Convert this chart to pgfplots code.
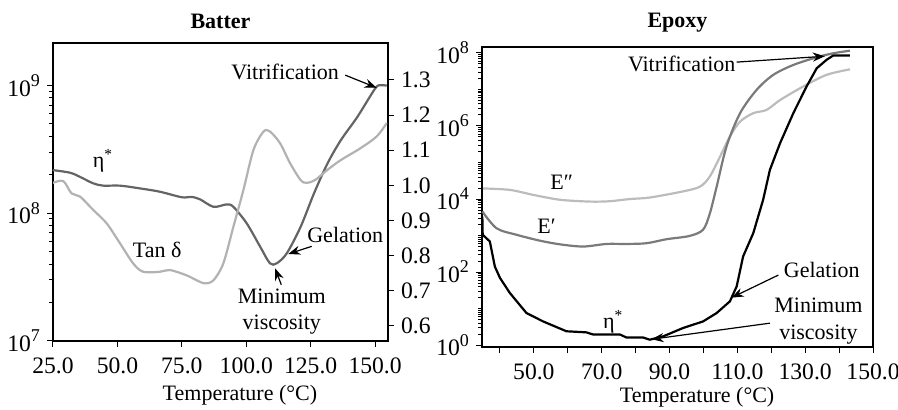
\documentclass[border=0pt]{standalone}
\usepackage{fontspec}
\setmainfont{Liberation Serif}
\usepackage{pgfplots}
\pgfplotsset{compat=1.18}
\usetikzlibrary{arrows.meta}
\definecolor{etadark}{RGB}{100,100,100}
\definecolor{tanlight}{RGB}{178,178,178}
\definecolor{eprime}{RGB}{122,122,122}
\definecolor{edouble}{RGB}{188,188,188}

\newcommand{\fs}{\fontsize{11}{13.2}\selectfont}
\newcommand{\ft}{\fontsize{11.8}{14}\selectfont}
\newcommand{\pw}[1]{10\raisebox{0.42em}{\fontsize{9}{9}\selectfont #1}}
\tikzset{ann/.style={-{Stealth[length=6pt,width=4.5pt]}, line width=0.6pt}}

\begin{document}
\begin{tikzpicture}[font=\fs]
\useasboundingbox (0,0) rectangle (449pt,204.5pt);
\pgfplotsset{
  every axis title shift=0pt,
  every axis/.append style={
    scale only axis, anchor=south west,
    tick label style={font=\ft}, label style={font=\fs},
    xticklabel style={yshift=-2pt},
    tick align=outside, major tick length=3pt, minor tick length=2pt,
    axis line style={line width=0.6pt}, tick style={line width=0.5pt, black},
  },
}

% ---- Batter: eta* on the log axis
\begin{axis}[
  at={(26.5pt,34pt)}, width=167.5pt, height=149pt,
  xmin=25, xmax=155, ymode=log, ymin=1e7, ymax=2.14e9,
  xtick={25,50,75,100,125,150},
  xticklabels={25.0,50.0,75.0,100.0,125.0,150.0},
  ytick={1e7,1e8,1e9},
  yticklabels={\pw{7},\pw{8},\pw{9}},
  xtick pos=bottom, ytick pos=left,
  xlabel={Temperature (°C)},
  xlabel style={at={(axis description cs:0.558,-0.181)}, anchor=center},
  title={Batter},
  title style={font=\fs\bfseries, at={(axis description cs:0.5,1)}, anchor=center, yshift=11pt},
  clip=false,
]
\addplot[smooth, tension=0.5, etadark, line width=1.1pt] coordinates {
  (24.9,2.17e8) (31.6,2.07e8) (35.5,1.92e8) (40.6,1.71e8) (44.5,1.64e8)
  (51.0,1.64e8) (58.8,1.56e8) (66.5,1.47e8) (75.0,1.33e8) (78.8,1.34e8)
  (82.1,1.28e8) (87.3,1.12e8) (92.4,1.17e8) (95.0,1.12e8) (100.2,8.30e7)
  (105.4,5.46e7) (109.2,4.05e7) (111.8,4.05e7) (115.7,4.84e7) (121.1,7.82e7)
  (126.3,1.43e8) (131.5,2.44e8) (136.7,3.72e8) (143.1,5.65e8) (150.0,9.42e8)
  (152.0,1.0e9) (154.5,9.93e8)
};
\node at (axis cs:115.1,1.26e9) {Vitrification};
\draw[ann] (axis cs:138.4,1.2e9) -- (axis cs:150.6,9.55e8);
\node at (axis cs:44.4,2.57e8) {η\textsuperscript{*}};
\node at (axis cs:65.4,5.13e7) {Tan δ};
\node at (axis cs:138.4,6.76e7) {Gelation};
\draw[ann] (axis cs:125.4,5.5e7) -- (axis cs:116.3,4.79e7);
\node[align=center, inner sep=0pt] at (axis cs:113.8,1.70e7) {Minimum\\viscosity};
\draw[ann] (axis cs:113.6,2.75e7) -- (axis cs:111.2,3.7e7);
\end{axis}

% ---- Batter: tan delta on the right axis
\begin{axis}[
  at={(26.5pt,34pt)}, width=167.5pt, height=149pt,
  xmin=25, xmax=155, ymin=0.557, ymax=1.405,
  axis y line*=right, axis x line=none,
  ytick={0.6,0.7,0.8,0.9,1.0,1.1,1.2,1.3},
  yticklabels={0.6,0.7,0.8,0.9,1.0,1.1,1.2,1.3},
]
\addplot[smooth, tension=0.5, tanlight, line width=1.1pt] coordinates {
  (24.9,1.007) (29.0,1.012) (32.2,0.977) (35.5,0.968) (40.6,0.930)
  (45.8,0.892) (51.0,0.835) (56.1,0.778) (60.0,0.754) (66.5,0.754)
  (70.4,0.759) (76.8,0.744) (80.7,0.730) (83.9,0.721) (87.3,0.730)
  (91.1,0.778) (95.0,0.882) (98.9,0.987) (102.8,1.101) (106.7,1.153)
  (109.2,1.153) (113.1,1.120) (117.0,1.063) (121.1,1.015) (123.5,1.007)
  (126.7,1.015) (131.5,1.044) (136.7,1.072) (144.2,1.105) (150.6,1.139)
  (154.5,1.177)
};
\end{axis}

% ---- Epoxy
\begin{axis}[
  at={(241pt,31pt)}, width=195.5pt, height=150pt,
  xmin=34.7, xmax=150, ymode=log, ymin=0.89, ymax=1.45e8,
  xtick={40,50,60,70,80,90,100,110,120,130,140,150},
  xticklabels={,50.0,,70.0,,90.0,,110.0,,130.0,,150.0},
  ytick={1,1e2,1e4,1e6,1e8},
  yticklabels={\pw{0},\pw{2},\pw{4},\pw{6},\pw{8}},
  minor ytick={2,3,4,5,6,7,8,9,10,20,30,40,50,60,70,80,90,
    200,300,400,500,600,700,800,900,1000,2000,3000,4000,5000,6000,7000,8000,9000,
    2e4,3e4,4e4,5e4,6e4,7e4,8e4,9e4,1e5,2e5,3e5,4e5,5e5,6e5,7e5,8e5,9e5,
    2e6,3e6,4e6,5e6,6e6,7e6,8e6,9e6,1e7,2e7,3e7,4e7,5e7,6e7,7e7,8e7,9e7},
  xtick pos=bottom, ytick pos=left,
  xlabel={Temperature (°C)},
  xlabel style={at={(axis description cs:0.55,-0.166)}, anchor=center},
  title={Epoxy},
  title style={font=\fs\bfseries, at={(axis description cs:0.5,1)}, anchor=center, yshift=12pt},
  clip=false,
]
\addplot[smooth, tension=0.5, edouble, line width=1.1pt] coordinates {
  (35.0,1.95e4) (42.9,1.78e4) (49.8,1.30e4) (57.7,9.55e3) (66.5,8.51e3)
  (72.4,8.71e3) (78.3,1.0e4) (84.2,1.10e4) (94.0,1.62e4) (99.0,2.19e4)
  (101.9,4.17e4) (104.9,1.45e5) (107.8,5.13e5) (110.8,1.32e6) (114.7,2.24e6)
  (118.6,2.75e6) (122.6,5.13e6) (129.4,1.20e7) (136.3,2.51e7) (143.2,3.55e7)
};
\addplot[smooth, tension=0.5, eprime, line width=1.1pt] coordinates {
  (34.8,4.57e3) (39.0,1.58e3) (44.9,1.05e3) (51.8,724) (57.7,575)
  (64.5,501) (71.4,589) (77.3,589) (83.2,617) (89.1,794) (95.9,977)
  (99.9,1.45e3) (101.9,4.07e3) (103.9,2.19e4) (106.8,2.75e5) (110.8,2.24e6)
  (115.7,9.77e6) (120.6,2.51e7) (126.5,4.68e7) (133.4,7.59e7) (138.3,9.77e7)
  (143.2,1.15e8)
};
\addplot[black, line width=1.1pt] coordinates {
  (34.8,3.31e3) (34.9,1.05e3) (37.0,692) (38.5,141) (40.0,69.2) (42.9,26.9)
  (47.8,7.59) (52.7,4.47) (59.6,2.40) (65.5,2.24) (67.5,1.95) (75.4,1.95)
  (77.3,1.62) (82.2,1.62) (84.2,1.41) (88.1,1.74) (94.0,2.95) (99.9,4.47)
  (103.9,7.59) (107.8,15.8) (109.8,40.7) (111.7,269) (114.7,1.17e3)
  (117.6,9.55e3) (119.6,6.31e4) (122.6,3.39e5) (126.5,2.24e6) (130.4,1.20e7)
  (133.4,3.80e7) (136.3,6.46e7) (138.3,8.51e7) (143.2,8.51e7)
};
\node at (axis cs:93.6,5.1e7) {Vitrification};
\draw[ann] (axis cs:109.8,5.6e7) -- (axis cs:135.8,8.1e7);
\node at (axis cs:58.2,2.95e4) {E″};
\node at (axis cs:53.7,1.74e3) {E′};
\node at (axis cs:73.4,4.37) {η\textsuperscript{*}};
\node at (axis cs:134.9,112) {Gelation};
\draw[ann] (axis cs:122.1,83) -- (axis cs:108.3,20);
\node[align=center, inner sep=0pt] at (axis cs:133.9,4.6) {Minimum\\viscosity};
\draw[ann] (axis cs:119.6,4.0) -- (axis cs:84.7,1.45);
\end{axis}
\end{tikzpicture}
\end{document}
